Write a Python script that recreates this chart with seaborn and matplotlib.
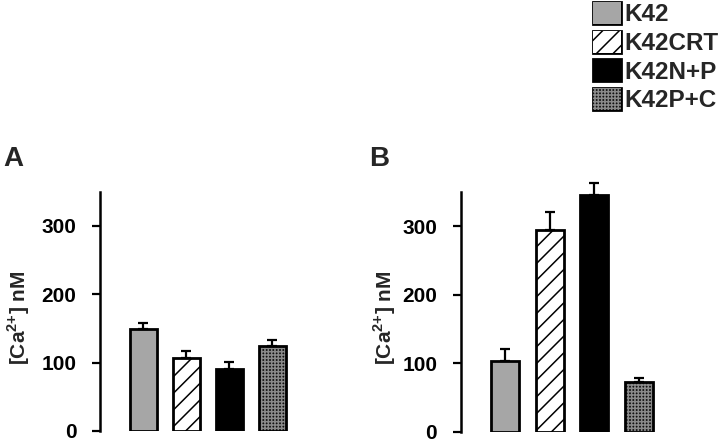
import matplotlib
matplotlib.use("Agg")
import matplotlib.pyplot as plt
from matplotlib.patches import Patch, Rectangle
import pandas as pd
import seaborn as sns

# values
groups = ["K42", "K42CRT", "K42N+P", "K42P+C"]
panel_a_mean = [149, 107, 91, 124]
panel_a_err = [9, 10, 10, 9]
panel_b_mean = [103, 294, 345, 72]
panel_b_err = [18, 27, 18, 7]
yticks = [0, 100, 200, 300]

faces = ["#a6a6a6", "white", "black", "#111111"]
hatches = [None, "//", None, "+++++"]
hatch_cols = ["black", "black", "black", "#8a8a8a"]

sns.set_theme(style="white")
plt.rcParams["font.family"] = ["Liberation Sans", "DejaVu Sans"]
plt.rcParams["font.weight"] = "bold"
plt.rcParams["mathtext.fontset"] = "custom"
plt.rcParams["mathtext.rm"] = "Liberation Sans:bold"
plt.rcParams["mathtext.bf"] = "Liberation Sans:bold"
plt.rcParams["hatch.linewidth"] = 1.1

fig = plt.figure(figsize=(7.2, 4.42), dpi=100)
ax_a = fig.add_axes([0.139, 0.0250, 0.269, 0.541])
ax_b = fig.add_axes([0.640, 0.0230, 0.278, 0.543])


def draw_panel(ax, means, errs):
    df = pd.DataFrame({"group": groups, "ca": means})
    sns.barplot(data=df, x="group", y="ca", hue="group", palette=faces,
                width=0.63, legend=False, ax=ax, saturation=1)
    for p, h, hc in zip(ax.patches, hatches, hatch_cols):
        if h:
            p.set_hatch(h)
            p.set_edgecolor(hc)
        p.set_linewidth(0)
        # black outline drawn on top
        ax.add_patch(Rectangle(p.get_xy(), p.get_width(), p.get_height(),
                               fill=False, edgecolor="black", linewidth=2.0,
                               zorder=3))
    eb = ax.errorbar(range(len(groups)), means, yerr=[[0] * len(errs), errs],
                     fmt="none", ecolor="black", elinewidth=1.6, capsize=3.5,
                     capthick=1.6, zorder=2)
    for art in eb.lines[1] + eb.lines[2]:
        art.set_clip_on(False)
    ax.set_xlim(-1, 3.5)
    ax.set_ylim(0, 350)
    ax.set_yticks(yticks)
    ax.set_yticklabels([str(t) for t in yticks], fontsize=15, fontweight="bold")
    ax.set_xticks([])
    ax.set_xlabel("")
    ax.set_ylabel(r"[Ca$^{2{+}}$] nM", fontsize=15, fontweight="bold")
    ax.tick_params(axis="y", direction="out", length=6, width=1.6, pad=11,
                   left=True, colors="black")
    for s in ["top", "right", "bottom"]:
        ax.spines[s].set_visible(False)
    ax.spines["left"].set_linewidth(1.8)
    ax.spines["left"].set_color("black")
    ax.set_facecolor("none")


draw_panel(ax_a, panel_a_mean, panel_a_err)
draw_panel(ax_b, panel_b_mean, panel_b_err)
ax_a.yaxis.set_label_coords(-0.35, 0.475)
ax_b.yaxis.set_label_coords(-0.315, 0.475)

fig.text(0.004, 0.640, "A", fontsize=20, fontweight="bold", va="center")
fig.text(0.512, 0.640, "B", fontsize=20, fontweight="bold", va="center")

handles = []
for f, h, hc in zip(faces, hatches, hatch_cols):
    if h:
        handles.append(Patch(facecolor=f, hatch=h, edgecolor=hc, linewidth=0))
    else:
        handles.append(Patch(facecolor=f, edgecolor="black", linewidth=0))
leg = fig.legend(handles, groups, loc="upper left", bbox_to_anchor=(0.824, 0.995),
                 frameon=False, fontsize=17.5, handlelength=1.15, handleheight=1.0,
                 handletextpad=0.12, labelspacing=0.18, borderaxespad=0,
                 borderpad=0)
for t in leg.get_texts():
    t.set_fontweight("bold")
# outline the legend swatches in black
fig.canvas.draw()
for lp in leg.get_patches():
    bb = lp.get_window_extent().transformed(fig.transFigure.inverted())
    fig.patches.append(Rectangle((bb.x0, bb.y0), bb.width, bb.height,
                                 transform=fig.transFigure, fill=False,
                                 edgecolor="black", linewidth=2.0, zorder=5))

fig.savefig("out.png", dpi=100)
